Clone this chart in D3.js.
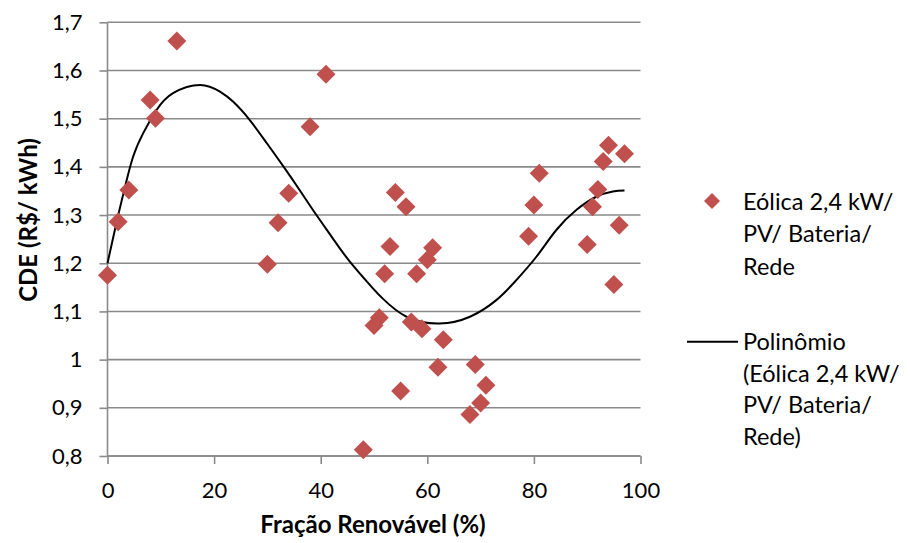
<!DOCTYPE html>
<html>
<head>
<meta charset="utf-8">
<script src="https://cdn.jsdelivr.net/npm/d3@7"></script>
<style>
  html, body { margin: 0; padding: 0; background: #fff; }
  svg { display: block; }
  text { font-family: Lato, "Open Sans", sans-serif; fill: #000; }
</style>
</head>
<body>
<div id="chart"></div>
<script>
// ---- data ----
const renewableFraction = [0, 2, 4, 8, 9, 13, 30, 32, 34, 38, 41,
  48, 50, 51, 52, 53, 54, 55, 56, 57, 58, 59, 60, 61, 62, 63,
  68, 69, 70, 71, 79, 80, 81, 90, 91, 92, 93, 94, 95, 96, 97];
const cdeValues = [1.175, 1.286, 1.352, 1.539, 1.501, 1.661, 1.198, 1.284, 1.345, 1.483, 1.592,
  0.813, 1.071, 1.087, 1.178, 1.235, 1.347, 0.935, 1.317, 1.078, 1.178, 1.064, 1.207, 1.232, 0.984, 1.041,
  0.886, 0.990, 0.910, 0.947, 1.256, 1.321, 1.387, 1.239, 1.317, 1.353, 1.411, 1.445, 1.156, 1.279, 1.427];

// trend line (polynomial)
const trendX = [0, 1.7, 3.3, 4.8, 6.7, 9.2, 12.3, 17.4, 21.1, 23.6, 26.7, 29.9, 33, 36.1, 39.2, 42.3, 45.5, 49.8, 51.7, 56.1, 62.3, 68, 73, 76.7, 80.5, 84.2, 88, 91.7, 94.8, 97];
const trendY = [1.2, 1.285, 1.359, 1.421, 1.47, 1.518, 1.553, 1.570, 1.556, 1.535, 1.497, 1.449, 1.401, 1.351, 1.300, 1.251, 1.203, 1.148, 1.126, 1.089, 1.075, 1.089, 1.124, 1.165, 1.214, 1.269, 1.311, 1.338, 1.349, 1.351];

const xTicks = [0, 20, 40, 60, 80, 100];
const yTicks = [0.8, 0.9, 1.0, 1.1, 1.2, 1.3, 1.4, 1.5, 1.6, 1.7];

const seriesName = ["Eólica 2,4 kW/", "PV/ Bateria/", "Rede"];
const trendName = ["Polinômio", "(Eólica 2,4 kW/", "PV/ Bateria/", "Rede)"];
const xTitle = "Fração Renovável (%)";
const yTitle = "CDE (R$/ kWh)";

// ---- chart ----
const W = 910, H = 543;
const svg = d3.select("#chart").append("svg").attr("width", W).attr("height", H);

const x = d3.scaleLinear().domain([0, 100]).range([107.5, 640.5]);
const y = d3.scaleLinear().domain([0.8, 1.7]).range([456, 22.3]);
const fmt = d => String(+d.toFixed(1)).replace(".", ",");

const gridColor = "#8a8a8a";
const tickFont = 22;
const legFont = 23.5;
const titleFont = 24;

// gridlines
svg.append("g").selectAll("line").data(yTicks).join("line")
  .attr("x1", x(0)).attr("x2", x(100))
  .attr("y1", d => y(d)).attr("y2", d => y(d))
  .attr("stroke", gridColor).attr("stroke-width", 1.6);

// y axis
const yAxis = svg.append("g").attr("transform", `translate(${x(0)},0)`)
  .call(d3.axisLeft(y).tickValues(yTicks).tickFormat(fmt).tickSize(8).tickPadding(17));
// x axis
const xAxis = svg.append("g").attr("transform", `translate(0,${y(0.8)})`)
  .call(d3.axisBottom(x).tickValues(xTicks).tickFormat(d => d).tickSize(8).tickPadding(18));

[yAxis, xAxis].forEach(a => {
  a.select(".domain").attr("stroke", gridColor).attr("stroke-width", 1.6);
  a.selectAll(".tick line").attr("stroke", gridColor).attr("stroke-width", 1.6);
  a.selectAll(".tick text").attr("font-family", "Lato, 'Open Sans', sans-serif")
    .attr("font-size", tickFont).attr("fill", "#000");
});
yAxis.select(".domain").attr("d", `M0,${y(0.8)}V${y(1.7)}`);
xAxis.select(".domain").attr("d", `M${x(0)},0H${x(100)}`);

// trend line
const trendPts = trendX.map((v, i) => [v, trendY[i]]);
svg.append("path").datum(trendPts)
  .attr("fill", "none").attr("stroke", "#000").attr("stroke-width", 2)
  .attr("d", d3.line().x(d => x(d[0])).y(d => y(d[1])).curve(d3.curveNatural));

// diamonds
const diamond = r => `M0,${-r}L${r},0L0,${r}L${-r},0Z`;
const pts = renewableFraction.map((v, i) => [v, cdeValues[i]]);
svg.append("g").selectAll("path").data(pts).join("path")
  .attr("d", diamond(9.5))
  .attr("transform", d => `translate(${x(d[0])},${y(d[1])})`)
  .attr("fill", "#C0504D");

// axis titles
svg.append("text").attr("x", 373).attr("y", 533).attr("text-anchor", "middle")
  .attr("font-size", titleFont).attr("font-weight", "bold").text(xTitle);
svg.append("text").attr("transform", "translate(37,220) rotate(-90)").attr("text-anchor", "middle")
  .attr("font-size", titleFont).attr("font-weight", "bold").text(yTitle);

// legend
const leg = svg.append("g");
leg.append("path").attr("d", diamond(8)).attr("transform", "translate(712,201)").attr("fill", "#C0504D");
seriesName.forEach((t, i) => {
  leg.append("text").attr("x", 743).attr("y", 201.7 + i * 32.5).attr("dy", "0.35em")
    .attr("font-size", legFont).text(t);
});
leg.append("line").attr("x1", 687).attr("x2", 738).attr("y1", 341.7).attr("y2", 341.7)
  .attr("stroke", "#000").attr("stroke-width", 2);
trendName.forEach((t, i) => {
  leg.append("text").attr("x", 743).attr("y", 341.7 + i * 31.7).attr("dy", "0.35em")
    .attr("font-size", legFont).text(t);
});
</script>
</body>
</html>
